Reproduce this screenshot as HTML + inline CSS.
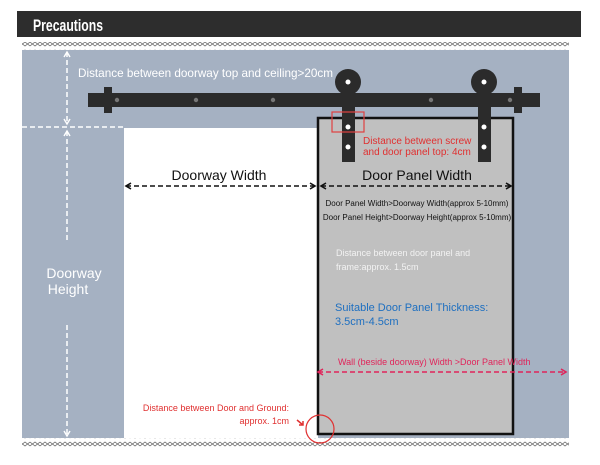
<!DOCTYPE html>
<html><head><meta charset="utf-8"><style>
body{margin:0;width:600px;height:460px;background:#fff;overflow:hidden;font-family:"Liberation Sans",sans-serif;}
</style></head><body>
<svg width="600" height="460" viewBox="0 0 600 460" xmlns="http://www.w3.org/2000/svg" font-family="Liberation Sans, sans-serif">
<defs>
<pattern id="zz" width="10" height="8" patternUnits="userSpaceOnUse">
<path d="M0 2 L5 6 L10 2 M0 6 L5 2 L10 6" stroke="#666" stroke-width="0.8" fill="none"/>
</pattern>
<marker id="ab" markerWidth="8" markerHeight="8" refX="6" refY="4" orient="auto-start-reverse" markerUnits="userSpaceOnUse"><path d="M1 1 L6 4 L1 7" stroke="#111" stroke-width="1.6" fill="none"/></marker>
<marker id="aw" markerWidth="8" markerHeight="8" refX="6" refY="4" orient="auto-start-reverse" markerUnits="userSpaceOnUse"><path d="M1 1 L6 4 L1 7" stroke="#fff" stroke-width="1.4" fill="none"/></marker>
<marker id="ar" markerWidth="8" markerHeight="8" refX="6" refY="4" orient="auto-start-reverse" markerUnits="userSpaceOnUse"><path d="M1 1 L6 4 L1 7" stroke="#e0245a" stroke-width="1.6" fill="none"/></marker>
</defs>
<rect x="17" y="11" width="564" height="26" fill="#2d2d2d"/>
<text x="33" y="31" fill="#fff" font-size="17" font-weight="bold" textLength="70" lengthAdjust="spacingAndGlyphs">Precautions</text>
<rect x="22" y="50" width="547" height="388" fill="#a5b1c2"/>
<rect x="22" y="42" width="547" height="8" fill="url(#zz)"/>
<rect x="22" y="438" width="547" height="9" fill="url(#zz)"/>
<rect x="124" y="128" width="194" height="310" fill="#fff"/>
<line x1="22" y1="127" x2="124" y2="127" stroke="#fff" stroke-width="1.5" stroke-dasharray="5,3"/>
<line x1="67" y1="52" x2="67" y2="124" stroke="#fff" stroke-width="1.5" stroke-dasharray="5,3" marker-start="url(#aw)" marker-end="url(#aw)"/>
<line x1="67" y1="131" x2="67" y2="240" stroke="#fff" stroke-width="1.5" stroke-dasharray="5,3" marker-start="url(#aw)"/>
<line x1="67" y1="325" x2="67" y2="436" stroke="#fff" stroke-width="1.5" stroke-dasharray="5,3" marker-end="url(#aw)"/>
<text x="74" y="278" fill="#fff" font-size="14" text-anchor="middle">Doorway</text>
<text x="68" y="294" fill="#fff" font-size="14" text-anchor="middle">Height</text>
<text x="78" y="77" fill="#fff" font-size="12" textLength="255" lengthAdjust="spacingAndGlyphs">Distance between doorway top and ceiling&gt;20cm</text>
<rect x="318" y="118" width="195" height="316" fill="#c0c0c0" stroke="#111" stroke-width="2.5"/>
<rect x="88" y="93" width="452" height="14" fill="#2b2b2b"/>
<rect x="104" y="87" width="8" height="26" fill="#2b2b2b"/>
<rect x="514" y="87" width="8" height="26" fill="#2b2b2b"/>
<g fill="#777"><circle cx="117" cy="100" r="2.2"/><circle cx="196" cy="100" r="2.2"/><circle cx="273" cy="100" r="2.2"/><circle cx="431" cy="100" r="2.2"/><circle cx="510" cy="100" r="2.2"/></g>
<circle cx="348" cy="82" r="13" fill="#2b2b2b"/><circle cx="484" cy="82" r="13" fill="#2b2b2b"/>
<rect x="342" y="82" width="13" height="80" fill="#2b2b2b"/><rect x="478" y="82" width="13" height="80" fill="#2b2b2b"/>
<g fill="#fff"><circle cx="348" cy="82" r="2.5"/><circle cx="484" cy="82" r="2.5"/><circle cx="348" cy="127" r="2.5"/><circle cx="348" cy="147" r="2.5"/><circle cx="484" cy="127" r="2.5"/><circle cx="484" cy="147" r="2.5"/></g>
<rect x="332" y="112" width="32" height="20" fill="none" stroke="#e04040" stroke-width="1.2"/>
<text x="363" y="144" fill="#e03030" font-size="10">Distance between screw</text>
<text x="363" y="155" fill="#e03030" font-size="10">and door panel top: 4cm</text>
<text x="219" y="180" fill="#111" font-size="14" text-anchor="middle">Doorway Width</text>
<line x1="126" y1="186" x2="315" y2="186" stroke="#111" stroke-width="1.5" stroke-dasharray="5,3" marker-start="url(#ab)" marker-end="url(#ab)"/>
<text x="417" y="180" fill="#111" font-size="14" text-anchor="middle">Door Panel Width</text>
<line x1="321" y1="186" x2="511" y2="186" stroke="#111" stroke-width="1.5" stroke-dasharray="5,3" marker-start="url(#ab)" marker-end="url(#ab)"/>
<text x="417" y="206" fill="#111" font-size="8" text-anchor="middle">Door Panel Width&gt;Doorway Width(approx 5-10mm)</text>
<text x="417" y="220" fill="#111" font-size="8" text-anchor="middle">Door Panel Height&gt;Doorway Height(approx 5-10mm)</text>
<text x="336" y="256" fill="#f2f2f2" font-size="9">Distance between door panel and</text>
<text x="336" y="270" fill="#f2f2f2" font-size="9">frame:approx. 1.5cm</text>
<text x="335" y="311" fill="#1e6fc0" font-size="11">Suitable Door Panel Thickness:</text>
<text x="335" y="325" fill="#1e6fc0" font-size="11">3.5cm-4.5cm</text>
<text x="338" y="365" fill="#e0245a" font-size="9">Wall (beside doorway) Width &gt;Door Panel Width</text>
<line x1="318" y1="372" x2="566" y2="372" stroke="#e0245a" stroke-width="1.5" stroke-dasharray="5,3" marker-start="url(#ar)" marker-end="url(#ar)"/>
<text x="289" y="411" fill="#e03030" font-size="9" text-anchor="end">Distance between Door and Ground:</text>
<text x="289" y="424" fill="#e03030" font-size="9" text-anchor="end">approx. 1cm</text>
<path d="M297 420 L303 425 M299 425 L303 425 L303 421" stroke="#e03030" stroke-width="1.5" fill="none"/>
<circle cx="320" cy="429" r="14" fill="none" stroke="#e03030" stroke-width="1.2"/>
</svg>
</body></html>
